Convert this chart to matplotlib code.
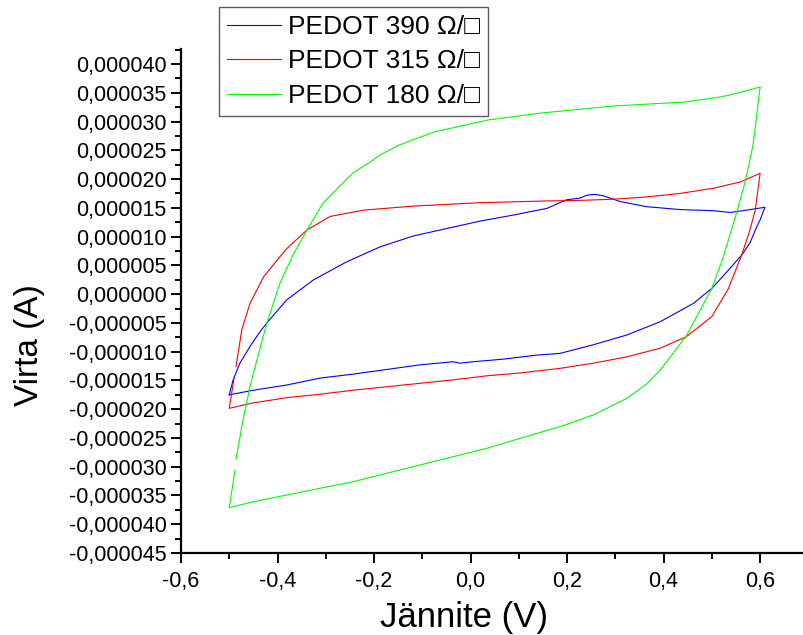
import matplotlib
matplotlib.use("Agg")
import matplotlib.pyplot as plt
import numpy as np
from matplotlib.ticker import MultipleLocator, FuncFormatter

plt.rcParams['font.family'] = ['Liberation Sans', 'DejaVu Sans']

# cyclic voltammograms, voltage in V, current in microampere
v_390 = [-0.500, -0.492, -0.478, -0.457, -0.436, -0.420, -0.381, -0.326, -0.257, -0.188,
         -0.119, 0.020, 0.089, 0.158, 0.199, 0.227, 0.241, 0.258, 0.275, 0.310,
         0.365, 0.434, 0.503, 0.538, 0.572, 0.610,
         0.600, 0.593, 0.579, 0.563, 0.531, 0.500, 0.462, 0.393, 0.324, 0.2545,
         0.1855, 0.137, 0.068, -0.001, -0.022, -0.036, -0.105, -0.174, -0.243, -0.312,
         -0.381, -0.450, -0.500]
i_390 = [-17.5, -14.9, -12.0, -9.1, -6.5, -4.8, -1.0, 2.45, 5.6, 8.2,
         10.1, 12.7, 13.75, 14.9, 16.4, 16.7, 17.2, 17.35, 17.1, 16.1,
         15.2, 14.7, 14.5, 14.2, 14.6, 15.1,
         12.9, 11.7, 8.9, 6.9, 3.85, 1.0, -1.6, -4.8, -7.1, -8.8,
         -10.3, -10.6, -11.3, -11.8, -12.0, -11.75, -12.3, -13.1, -13.9, -14.6,
         -15.8, -16.7, -17.5]

v_315 = [-0.486, -0.474, -0.457, -0.429, -0.395, -0.381, -0.339, -0.291, -0.222,
         -0.119, 0.020, 0.158, 0.227, 0.296, 0.365, 0.434, 0.503, 0.559, 0.600,
         0.590, 0.579, 0.562, 0.534, 0.500, 0.447, 0.393, 0.324, 0.2545, 0.1855,
         0.103, 0.034, -0.036, -0.105, -0.174, -0.243, -0.312, -0.381, -0.450, -0.500,
         -0.490]
i_315 = [-12.6, -6.2, -1.6, 3.0, 6.5, 7.9, 11.15, 13.5, 14.6,
         15.3, 15.9, 16.2, 16.3, 16.5, 16.9, 17.5, 18.4, 19.5, 21.0,
         14.6, 11.15, 6.8, 0.9, -3.9, -7.4, -9.4, -10.9, -12.0, -12.9,
         -13.7, -14.2, -14.9, -15.5, -16.1, -16.7, -17.4, -18.0, -18.9, -19.85,
         -14.6]

v_180 = [-0.486, -0.471, -0.457, -0.440, -0.422, -0.395, -0.368, -0.339, -0.306, -0.275,
         -0.244, -0.208, -0.188, -0.148, -0.076, 0.036, 0.146, 0.295, 0.4425, 0.517,
         0.554, 0.600,
         0.586, 0.570, 0.552, 0.524, 0.500, 0.447, 0.393, 0.365, 0.324, 0.2545,
         0.1855, 0.103, 0.034, -0.036, -0.105, -0.174, -0.243, -0.312, -0.381, -0.450,
         -0.500, -0.488]
i_180 = [-28.7, -21.7, -16.1, -10.6, -5.0, 1.9, 6.8, 11.15, 15.8, 18.45,
         21.05, 22.97, 24.18, 25.92, 28.18, 30.27, 31.48, 32.7, 33.39, 34.26,
         34.96, 36.0,
         26.2, 19.84, 14.33, 6.5, 1.0, -7.28, -13.19, -15.6, -18.11, -21.0,
         -23.04, -25.06, -26.8, -28.26, -29.7, -31.14, -32.6, -33.75, -34.92, -36.08,
         -37.12, -30.57]

series = [
    ("PEDOT 390 \u03a9/\u25a1", v_390, i_390, "#0000ff"),
    ("PEDOT 315 \u03a9/\u25a1", v_315, i_315, "#ff0000"),
    ("PEDOT 180 \u03a9/\u25a1", v_180, i_180, "#00ff00"),
]

fig = plt.figure(figsize=(8.04, 6.35), dpi=100)
ax = fig.add_axes([181 / 804, 82 / 635, 1 - 181 / 804, 503.7 / 635])

for label, v, i, col in series:
    ax.plot(v, np.array(i) * 1e-6, color=col, lw=0.8, label=label)

ax.set_xlim(-0.6, 0.691)
ax.set_ylim(-45e-6, 42.56e-6)

ax.xaxis.set_major_locator(MultipleLocator(0.2))
ax.xaxis.set_minor_locator(MultipleLocator(0.1))
ax.yaxis.set_major_locator(MultipleLocator(5e-6))
ax.yaxis.set_minor_locator(MultipleLocator(2.5e-6))


def fmt_y(val, pos):
    val = round(val * 1e6) / 1e6
    if abs(val) < 1e-12:
        val = 0.0
    return f"{val:.6f}".replace('.', ',')


def fmt_x(val, pos):
    val = round(val, 1)
    if abs(val) < 1e-9:
        val = 0.0
    return f"{val:.1f}".replace('.', ',')


ax.yaxis.set_major_formatter(FuncFormatter(fmt_y))
ax.xaxis.set_major_formatter(FuncFormatter(fmt_x))

for s in ['top', 'right']:
    ax.spines[s].set_visible(False)
for s in ['left', 'bottom']:
    ax.spines[s].set_linewidth(1.6)

ax.tick_params(which='major', length=7, width=1.4, labelsize=15.5, pad=3.5)
ax.tick_params(which='minor', length=4, width=1.4)
ax.tick_params(axis='x', which='major', pad=6)

ax.set_xlabel("J\u00e4nnite (V)", fontsize=25)
ax.set_ylabel("Virta (A)", fontsize=24)
ax.xaxis.set_label_coords((464 - 181) / 623, -0.095)
ax.yaxis.set_label_coords((45 - 181) / 623, (553 - 345) / 503.7)

leg = ax.legend(loc='upper left', bbox_to_anchor=(219 / 804, 1 - 7 / 635),
                bbox_transform=fig.transFigure, fontsize=19, frameon=True,
                fancybox=False, borderpad=0.3, handlelength=2.05,
                handletextpad=0.27, labelspacing=0.4, borderaxespad=0)
leg.get_frame().set_edgecolor('#333333')
leg.get_frame().set_linewidth(1.0)

fig.savefig("out.png", dpi=100)
